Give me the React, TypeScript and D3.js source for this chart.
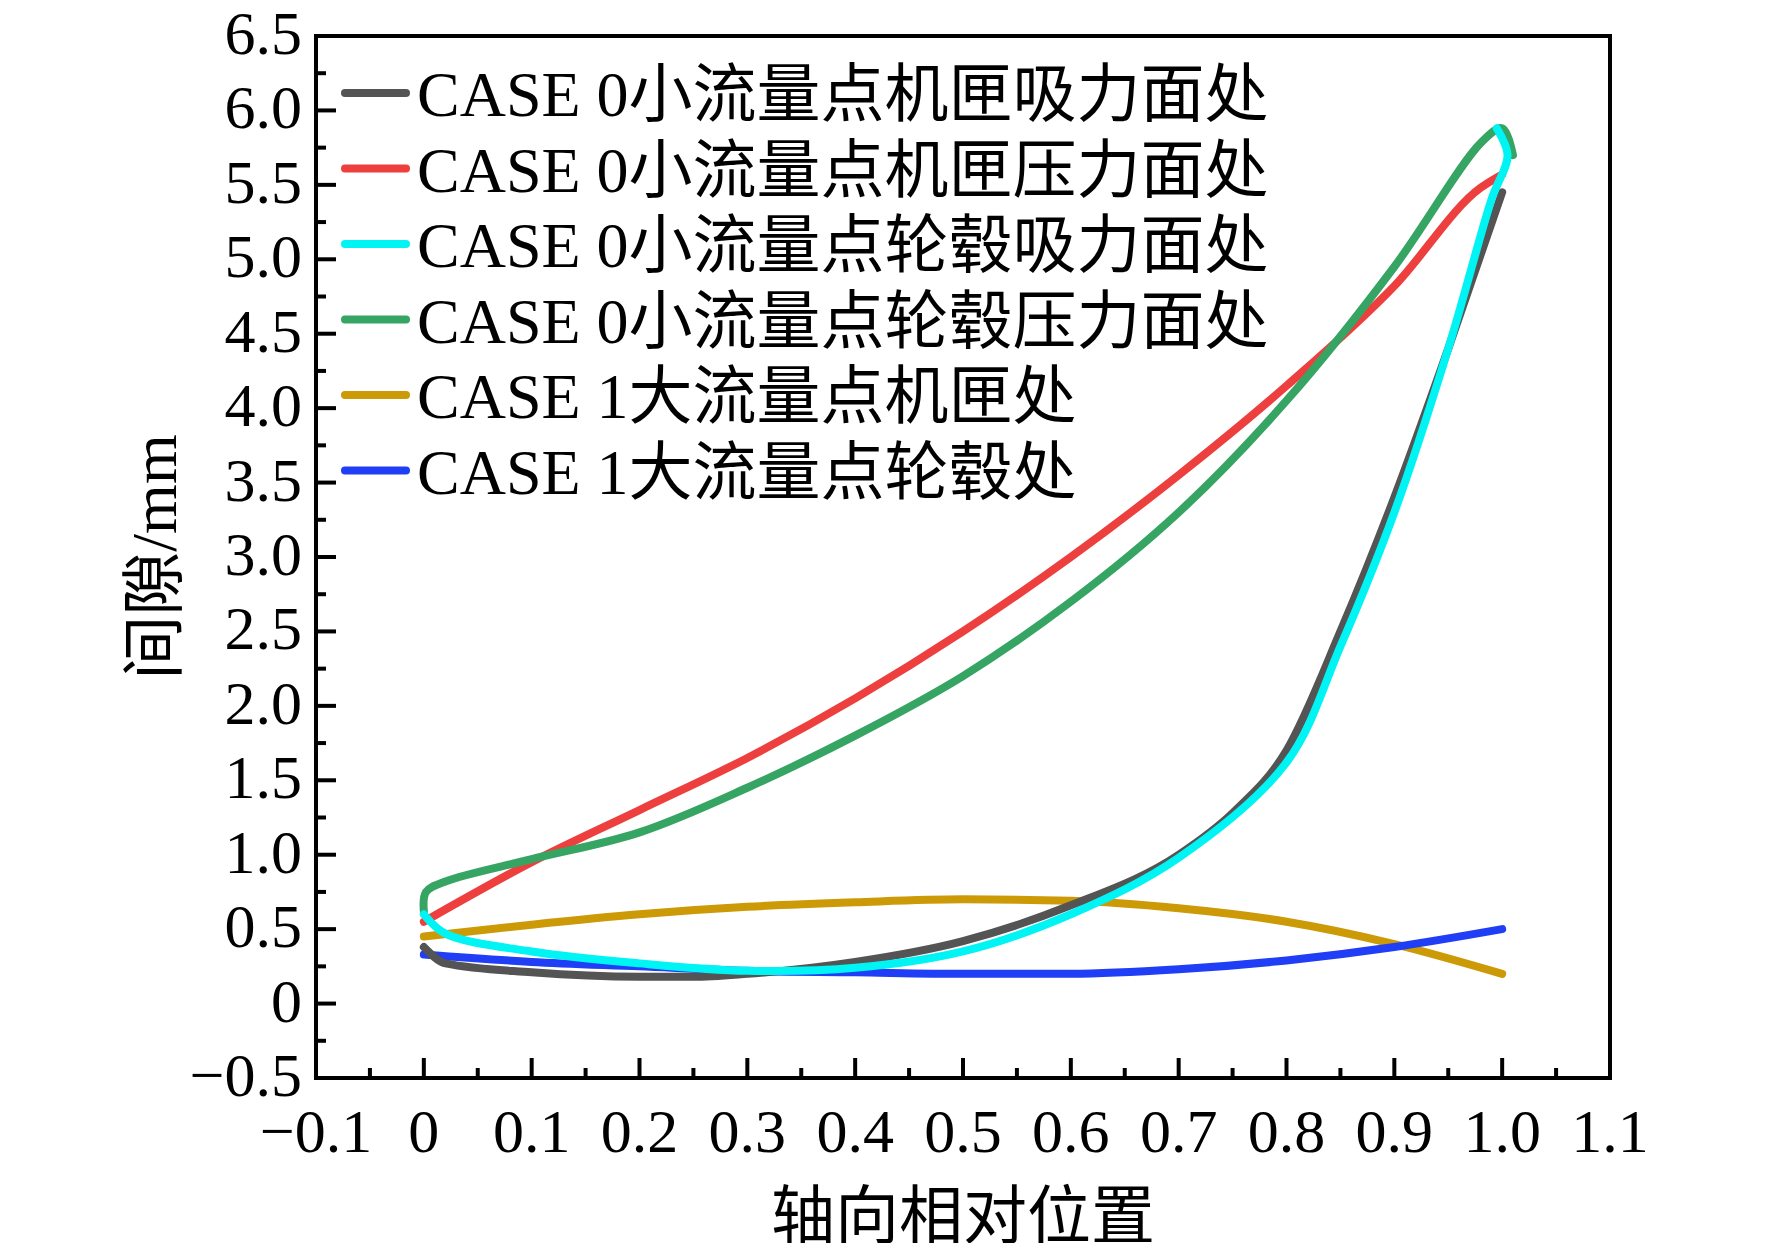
import * as d3 from 'd3';

const W = 1772;
const H = 1251;

const xTicks = [-0.1, 0, 0.1, 0.2, 0.3, 0.4, 0.5, 0.6, 0.7, 0.8, 0.9, 1.0, 1.1];
const yTicks = [-0.5, 0, 0.5, 1, 1.5, 2, 2.5, 3, 3.5, 4, 4.5, 5, 5.5, 6, 6.5];

const seriesNames = [
  'CASE 0小流量点机匣吸力面处',
  'CASE 0小流量点机匣压力面处',
  'CASE 0小流量点轮毂吸力面处',
  'CASE 0小流量点轮毂压力面处',
  'CASE 1大流量点机匣处',
  'CASE 1大流量点轮毂处',
];
const seriesColors = ['#545454', '#ee3f3f', '#00f4f4', '#36a463', '#cc9a06', '#1f3ef6'];

const blackPts: [number, number][] = [
  [0, 0.38], [0.02, 0.27], [0.1, 0.21], [0.2, 0.18], [0.25, 0.18], [0.3, 0.2], [0.4, 0.28],
  [0.5, 0.42], [0.6, 0.66], [0.7, 1.0], [0.75, 1.28], [0.8, 1.7], [0.85, 2.5], [0.9, 3.4],
  [0.95, 4.4], [1.0, 5.45],
];
const redPts: [number, number][] = [
  [0, 0.55], [0.1, 0.95], [0.2, 1.3], [0.3, 1.65], [0.4, 2.05], [0.5, 2.5], [0.6, 3.0],
  [0.7, 3.55], [0.8, 4.15], [0.9, 4.82], [0.98, 5.48], [1.0, 5.57],
];
const cyanPts: [number, number][] = [
  [0, 0.6], [0.02, 0.47], [0.1, 0.35], [0.2, 0.27], [0.3, 0.22], [0.4, 0.24], [0.5, 0.35],
  [0.6, 0.6], [0.7, 0.98], [0.8, 1.62], [0.85, 2.4], [0.9, 3.3], [0.95, 4.4], [0.99, 5.4],
  [1.005, 5.7], [0.995, 5.88],
];
const greenPts: [number, number][] = [
  [0, 0.62], [0.002, 0.75], [0.02, 0.82], [0.1, 0.97], [0.2, 1.15], [0.3, 1.45], [0.4, 1.8],
  [0.5, 2.2], [0.6, 2.7], [0.7, 3.3], [0.8, 4.05], [0.9, 4.95], [0.98, 5.78], [1.0, 5.88],
  [1.01, 5.7],
];
const goldPts: [number, number][] = [
  [0, 0.45], [0.1, 0.53], [0.2, 0.6], [0.3, 0.65], [0.4, 0.68], [0.5, 0.7], [0.6, 0.69],
  [0.7, 0.64], [0.8, 0.55], [0.9, 0.4], [1.0, 0.2],
];
const bluePts: [number, number][] = [
  [0, 0.33], [0.1, 0.28], [0.2, 0.25], [0.3, 0.22], [0.4, 0.21], [0.5, 0.2], [0.6, 0.2],
  [0.7, 0.23], [0.8, 0.29], [0.9, 0.38], [1.0, 0.5],
];
const seriesData = [blackPts, redPts, cyanPts, greenPts, goldPts, bluePts];
// cyan and green double back at the tip, so they can't use a monotone curve
const backtracks = [false, false, true, true, false, false];

const left = 316, right = 1610, top = 36, bottom = 1078;
const font = '"Liberation Serif", "Noto Sans CJK SC", serif';

const fmt = (t: number) => (t === 0 ? '0' : t < 0 ? '\u2212' + Math.abs(t).toFixed(1) : t.toFixed(1));

export default function App() {
  const x = d3.scaleLinear().domain([-0.1, 1.1]).range([left, right]);
  const y = d3.scaleLinear().domain([-0.5, 6.5]).range([bottom, top]);
  const smooth = d3.line<[number, number]>().x(d => x(d[0])).y(d => y(d[1])).curve(d3.curveCatmullRom.alpha(0.5));
  const mono = d3.line<[number, number]>().x(d => x(d[0])).y(d => y(d[1])).curve(d3.curveMonotoneX);
  const xMinor = d3.range(-0.05, 1.1, 0.1);
  const yMinor = d3.range(-0.25, 6.5, 0.5);
  const drawOrder = [1, 3, 4, 5, 0, 2];

  return (
    <svg width={W} height={H} style={{ display: 'block', margin: -8 }} fontFamily={font}>
      <rect width={W} height={H} fill="#fff" />
      {drawOrder.map(i => (
        <path key={i} d={(backtracks[i] ? smooth : mono)(seriesData[i]) ?? ''} fill="none" stroke={seriesColors[i]}
          strokeWidth={8} strokeLinejoin="round" strokeLinecap="round" />
      ))}
      <rect x={left} y={top} width={right - left} height={bottom - top} fill="none" stroke="#000" strokeWidth={4} />
      {xTicks.map(t => (
        <g key={'x' + t}>
          <line x1={x(t)} x2={x(t)} y1={bottom} y2={bottom - 20} stroke="#000" strokeWidth={4} />
          <text x={x(t)} y={bottom + 74} fontSize={62} textAnchor="middle">{fmt(t)}</text>
        </g>
      ))}
      {xMinor.map(t => (
        <line key={'xm' + t} x1={x(t)} x2={x(t)} y1={bottom} y2={bottom - 10} stroke="#000" strokeWidth={4} />
      ))}
      {yTicks.map(t => (
        <g key={'y' + t}>
          <line x1={left} x2={left + 20} y1={y(t)} y2={y(t)} stroke="#000" strokeWidth={4} />
          <text x={left - 14} y={y(t) + 18} fontSize={62} textAnchor="end">{fmt(t)}</text>
        </g>
      ))}
      {yMinor.map(t => (
        <line key={'ym' + t} x1={left} x2={left + 10} y1={y(t)} y2={y(t)} stroke="#000" strokeWidth={4} />
      ))}
      {seriesNames.map((n, i) => (
        <g key={n} transform={`translate(0, ${93 + i * 75.5})`}>
          <line x1={345} x2={406} y1={0} y2={0} stroke={seriesColors[i]} strokeWidth={8} strokeLinecap="round" />
          <text x={417} y={23} fontSize={64}>{n}</text>
        </g>
      ))}
      <text x={(left + right) / 2} y={1238} fontSize={64} textAnchor="middle">轴向相对位置</text>
      <text transform={`translate(176, ${(top + bottom) / 2}) rotate(-90)`} fontSize={64} textAnchor="middle">间隙/mm</text>
    </svg>
  );
}
